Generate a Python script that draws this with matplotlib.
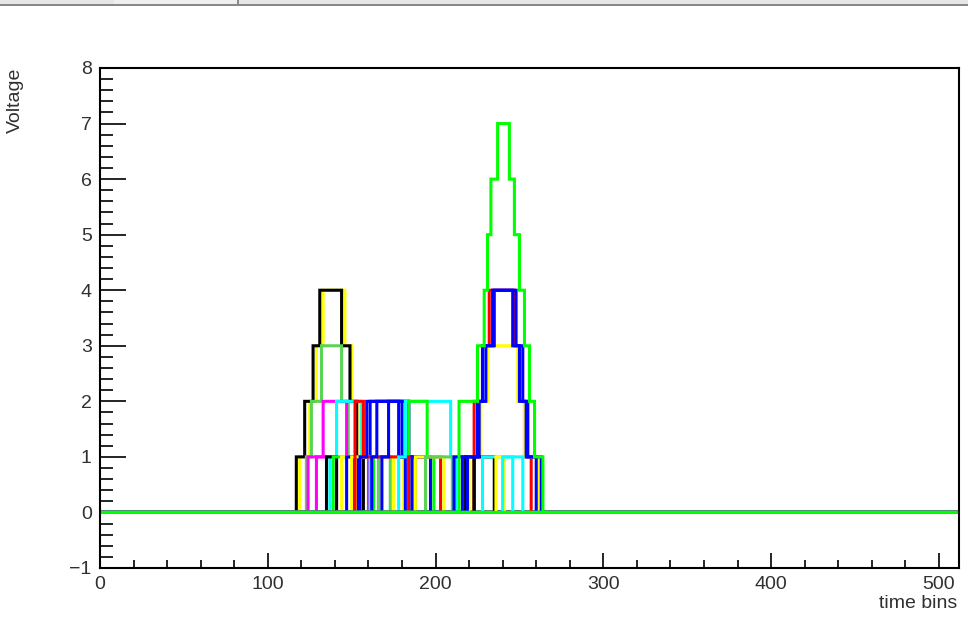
import numpy as np
import matplotlib
matplotlib.use("Agg")
import matplotlib.pyplot as plt
from matplotlib.patches import Rectangle
from matplotlib.ticker import MultipleLocator

# ---- data -------------------------------------------------------------
n_bins = 512
x_range = (0, 512)
y_range = (-1, 8)
x_title = "time bins"
y_title = "Voltage"

# ROOT palette colours 1..8
root_colors = {1: "#000000", 2: "#ff0000", 3: "#00ff00", 4: "#0000ff",
               5: "#ffff00", 6: "#ff00ff", 7: "#00ffff", 8: "#59d454"}

# each pulse: colour index, bins where the level changes, level from that bin on
pulse_colors = [5, 1, 8, 6, 6, 7, 1, 3, 5, 4,
                4, 5, 8, 5,
                2, 4, 4, 4, 7, 3, 2, 4, 5, 8,
                4, 1,
                2, 5, 1, 4, 4, 7, 5, 7, 3, 3]
pulse_breaks = [
    [119, 125, 129, 133, 146, 150, 155, 160],
    [117, 122, 127, 131, 144, 149, 153, 157],
    [123, 126, 132, 144, 148, 152],
    [124, 133, 147, 160],
    [129, 141],
    [137, 141, 156, 161],
    [135, 141],
    [139, 163],
    [144, 153],
    [151, 161, 184, 188],
    [147, 154],
    [150, 168],
    [166, 173],
    [175, 181],
    [152, 157, 184],
    [155, 159, 184, 188],
    [162, 165, 178, 182],
    [168, 172, 180, 184],
    [178, 182, 209, 212],
    [184, 195, 199],
    [184, 203],
    [186, 197],
    [188, 205],
    [194, 210],
    [211, 218],
    [218, 223],
    [223, 228, 232, 247, 250, 253, 257],
    [220, 227, 231, 249, 253, 261],
    [223, 235],
    [216, 225, 228, 234, 248, 252, 255, 263],
    [219, 226, 230, 235, 246, 250, 254, 260],
    [228, 252],
    [236, 241],
    [240, 246],
    [214, 225, 229, 231, 233, 237, 244, 247, 250, 253, 256, 259, 264],
    [],
]
pulse_levels = [
    [1, 2, 3, 4, 3, 2, 1, 0],
    [1, 2, 3, 4, 3, 2, 1, 0],
    [1, 2, 3, 2, 1, 0],
    [1, 2, 1, 0],
    [1, 0],
    [1, 2, 1, 0],
    [1, 0],
    [1, 0],
    [1, 0],
    [1, 2, 1, 0],
    [1, 0],
    [1, 0],
    [1, 0],
    [1, 0],
    [2, 1, 0],
    [1, 2, 1, 0],
    [1, 2, 1, 0],
    [1, 2, 1, 0],
    [1, 2, 1, 0],
    [2, 1, 0],
    [1, 0],
    [1, 0],
    [1, 0],
    [1, 0],
    [1, 0],
    [1, 0],
    [2, 3, 4, 3, 2, 1, 0],
    [1, 2, 3, 2, 1, 0],
    [1, 0],
    [1, 2, 3, 4, 3, 2, 1, 0],
    [1, 2, 3, 4, 3, 2, 1, 0],
    [1, 0],
    [1, 0],
    [1, 0],
    [2, 3, 4, 5, 6, 7, 6, 5, 4, 3, 2, 1, 0],
    [],
]

# ---- figure -----------------------------------------------------------
W, H = 968, 618
fig = plt.figure(figsize=(W / 100, H / 100), dpi=100)
fig.patch.set_facecolor("white")

# window toolbar strip at the top
fig.patches.append(Rectangle((0, 1 - 4 / H), 1, 4 / H, transform=fig.transFigure,
                             facecolor="#e6e6e6", edgecolor="none"))
fig.patches.append(Rectangle((114 / W, 1 - 4 / H), 124 / W, 4 / H, transform=fig.transFigure,
                             facecolor="#efefef", edgecolor="none"))
fig.patches.append(Rectangle((237 / W, 1 - 5 / H), 2 / W, 5 / H, transform=fig.transFigure,
                             facecolor="#888888", edgecolor="none"))
fig.patches.append(Rectangle((0, 1 - 6 / H), 1, 2 / H, transform=fig.transFigure,
                             facecolor="#888888", edgecolor="none"))

ax = fig.add_axes([100 / W, 50 / H, 859 / W, 500 / H])
ax.set_axisbelow(True)
edges = np.linspace(x_range[0], x_range[1], n_bins + 1)

for col, brk, lev in zip(pulse_colors, pulse_breaks, pulse_levels):
    vals = np.zeros(n_bins)
    for i, b in enumerate(brk):
        vals[b:] = lev[i]
    ax.stairs(vals, edges, baseline=None, color=root_colors[col], lw=2.2, zorder=2)

ax.set_xlim(*x_range)
ax.set_ylim(*y_range)
for s in ax.spines.values():
    s.set_linewidth(1.5)
    s.set_zorder(5)

ax.xaxis.set_major_locator(MultipleLocator(100))
ax.xaxis.set_minor_locator(MultipleLocator(20))
ax.yaxis.set_major_locator(MultipleLocator(1))
ax.yaxis.set_minor_locator(MultipleLocator(0.2))
ax.tick_params(axis="x", which="major", direction="in", length=11, width=1.2,
               top=False, labelsize=14, pad=6)
ax.tick_params(axis="x", which="minor", direction="in", length=5.5, width=1.2, top=False)
ax.tick_params(axis="y", which="major", direction="in", length=19, width=1.2,
               right=False, labelsize=14, pad=6)
ax.tick_params(axis="y", which="minor", direction="in", length=9.5, width=1.2, right=False)
for lab in ax.get_xticklabels() + ax.get_yticklabels():
    lab.set_family("Liberation Sans")
    lab.set_color("#303030")

fig.text(957 / W, 1 - 604 / H, x_title, ha="right", va="center", fontsize=14,
         family="Liberation Sans", color="#303030")
fig.text(15 / W, 1 - 100 / H, y_title, ha="center", va="center", rotation=90,
         fontsize=14, family="Liberation Sans", color="#303030")

fig.savefig("out.png", dpi=100, facecolor="white")
